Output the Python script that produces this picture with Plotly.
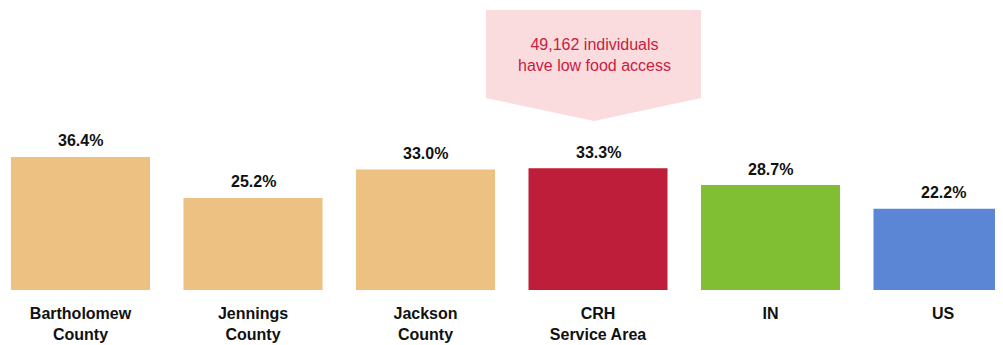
import plotly.graph_objects as go

categories = ["Bartholomew County", "Jennings County", "Jackson County",
              "CRH Service Area", "IN", "US"]
tick_labels = ["Bartholomew<br>County", "Jennings<br>County", "Jackson<br>County",
               "CRH<br>Service Area", "IN", "US"]
values = [36.4, 25.2, 33.0, 33.3, 28.7, 22.2]
bar_colors = ["#EDC182", "#EDC182", "#EDC182", "#BE1E3A", "#80BE33", "#5B85D5"]
callout_text = "49,162 individuals<br>have low food access"

fig = go.Figure()
fig.add_trace(go.Bar(
    x=categories, y=values, marker=dict(color=bar_colors, line=dict(width=0)),
    width=0.806, hoverinfo="skip",
))

for c, v in zip(categories, values):
    fig.add_annotation(x=c, y=v, text=f"<b>{v:.1f}%</b>", showarrow=False,
                       yanchor="middle", yshift=16,
                       font=dict(family="Liberation Sans", size=16, color="#111111"))

# callout pentagon anchored to CRH category
fig.add_shape(type="path", xref="x", yref="paper",
              xsizemode="pixel", ysizemode="pixel",
              xanchor=categories[3], yanchor=1,
              path="M -112,-2 L 103,-2 L 103,-90 L -4,-113 L -112,-90 Z",
              fillcolor="#FADCDE", line=dict(width=0), layer="below")
fig.add_annotation(x=categories[3], xshift=-4, y=1, yref="paper", yshift=-47,
                   yanchor="middle", text=callout_text, showarrow=False,
                   font=dict(family="Liberation Sans", size=16, color="#C8203F"))

fig.update_layout(
    width=995, height=337,
    margin=dict(l=0, r=0, t=0, b=55),
    paper_bgcolor="white", plot_bgcolor="white",
    showlegend=False,
    font=dict(family="Liberation Sans"),
    xaxis=dict(type="category", range=[-0.4203, 5.3478],
               tickvals=categories, ticktext=tick_labels,
               showgrid=False, zeroline=False, showline=False,
               ticks="", ticklabelstandoff=12,
               tickfont=dict(family="Liberation Sans", size=16, color="#111111",
                             weight="bold")),
    yaxis=dict(range=[0, 77.15], visible=False, showgrid=False, zeroline=False),
)

fig.write_html("out.html")
